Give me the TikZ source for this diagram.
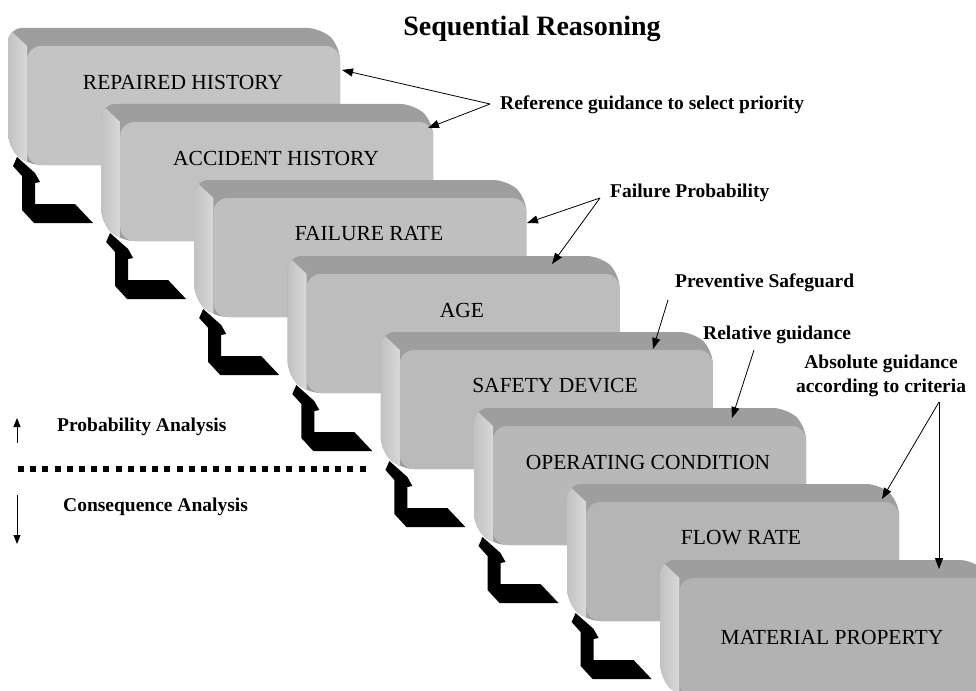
\documentclass[tikz,border=0pt]{standalone}
\usepackage{fontspec}
\setmainfont{Liberation Serif}
\usetikzlibrary{arrows.meta}
\begin{document}
\begin{tikzpicture}[x=1pt,y=-1pt,
  boxtext/.style={font=\fontsize{21.5}{24}\selectfont, inner sep=0pt, text=black},
  note/.style={font=\bfseries\fontsize{19.5}{24}\selectfont, inner sep=0pt},
  ann/.style={-{Triangle[length=11pt,width=8pt]}, line width=0.8pt},
  sideann/.style={-{Triangle[length=9pt,width=7pt]}, line width=1pt},
  stairarrow/.style={fill=black}
]
\useasboundingbox (0,0) rectangle (976,690);
\clip (0,0) rectangle (976,690);

% ---- stacked 3D boxes ----
\foreach \k in {0,...,7} {
  \pgfmathsetmacro\bx{8+93.2*\k}
  \pgfmathsetmacro\by{28+76*\k}
  \pgfmathtruncatemacro\fc{23+\k}
  \begin{scope}[shift={(\bx,\by)}]
    \fill[black!38, rounded corners=14pt] (0,0) -- (313,0) -- (332,18) -- (332,137) -- (19,137) -- (0,119) -- cycle;
    \begin{scope}
      \clip[rounded corners=14pt] (0,0) -- (313,0) -- (332,18) -- (332,137) -- (19,137) -- (0,119) -- cycle;
      \shade[left color=black!24, right color=black!15] (0,0) -- (19,18) -- (19,140) -- (0,140) -- cycle;
    \end{scope}
    \fill[black!\fc, rounded corners=14pt] (19,18) rectangle (332,137);
  \end{scope}
}

% ---- black stair arrows ----
\foreach \k in {0,...,6} {
  \pgfmathsetmacro\ax{13+93.1*\k}
  \pgfmathsetmacro\ay{157+76*\k}
  \fill[stairarrow, shift={(\ax,\ay)}]
    (4,0) -- (22,16) -- (27,25) -- (22,26) -- (22,47) -- (62,47) -- (80,66)
    -- (21,66) -- (9,53) -- (9,19) -- (0,9) -- cycle;
}

% ---- box labels ----
\node[boxtext] (l1) at (183,82)  {REPAIRED HISTORY};
\node[boxtext] (l2) at (276,158) {ACCIDENT HISTORY};
\node[boxtext] (l3) at (369,234) {FAILURE RATE};
\node[boxtext] (l4) at (462,310) {AGE};
\node[boxtext] (l5) at (555,386) {SAFETY DEVICE};
\node[boxtext] (l6) at (648,462) {OPERATING CONDITION};
\node[boxtext] (l7) at (741,538) {FLOW RATE};
\node[boxtext] (l8) at (832,637) {MATERIAL PROPERTY};

% ---- title ----
\node[font=\bfseries\fontsize{28}{31}\selectfont, inner sep=0pt] (title) at (532,29) {Sequential Reasoning};

% ---- annotations ----
\node[note, anchor=west] (n1) at (500,105) {Reference guidance to select priority};
\coordinate (c1) at (490,104);
\coordinate (t1a) at (342,70);
\coordinate (t1b) at (428,128);
\draw[ann] (c1) -- (t1a);
\draw[ann] (c1) -- (t1b);

\node[note, anchor=west] (n2) at (610,193) {Failure Probability};
\coordinate (c2) at (600,198);
\coordinate (t2a) at (527,223);
\coordinate (t2b) at (552,264);
\draw[ann] (c2) -- (t2a);
\draw[ann] (c2) -- (t2b);

\node[note, anchor=west] (n3) at (675,283) {Preventive Safeguard};
\coordinate (c3) at (668,300);
\coordinate (t3) at (653,349);
\draw[ann] (c3) -- (t3);

\node[note, anchor=west] (n4) at (703,335) {Relative guidance};
\coordinate (c4) at (754,350);
\coordinate (t4) at (732,418);
\draw[ann] (c4) -- (t4);

\node[note, align=center] (n5) at (881,376) {Absolute guidance\\according to criteria};
\coordinate (c5) at (939,402);
\coordinate (t5a) at (882,499);
\coordinate (t5b) at (939,569);
\draw[ann] (c5) -- (t5a);
\draw[ann] (c5) -- (t5b);

% ---- left legend ----
\node[note, anchor=west] (pa) at (57,427) {Probability Analysis};
\node[note, anchor=west] (ca) at (63,507) {Consequence Analysis};
\coordinate (u0) at (17,443);
\coordinate (u1) at (17,418);
\coordinate (d0) at (17,495);
\coordinate (d1) at (17,544);
\draw[sideann] (u0) -- (u1);
\draw[sideann] (d0) -- (d1);
\coordinate (s0) at (18,469);
\coordinate (s1) at (368,469);
\draw[line width=6pt, dash pattern=on 6pt off 6.2pt] (s0) -- (s1);
\end{tikzpicture}
\end{document}
